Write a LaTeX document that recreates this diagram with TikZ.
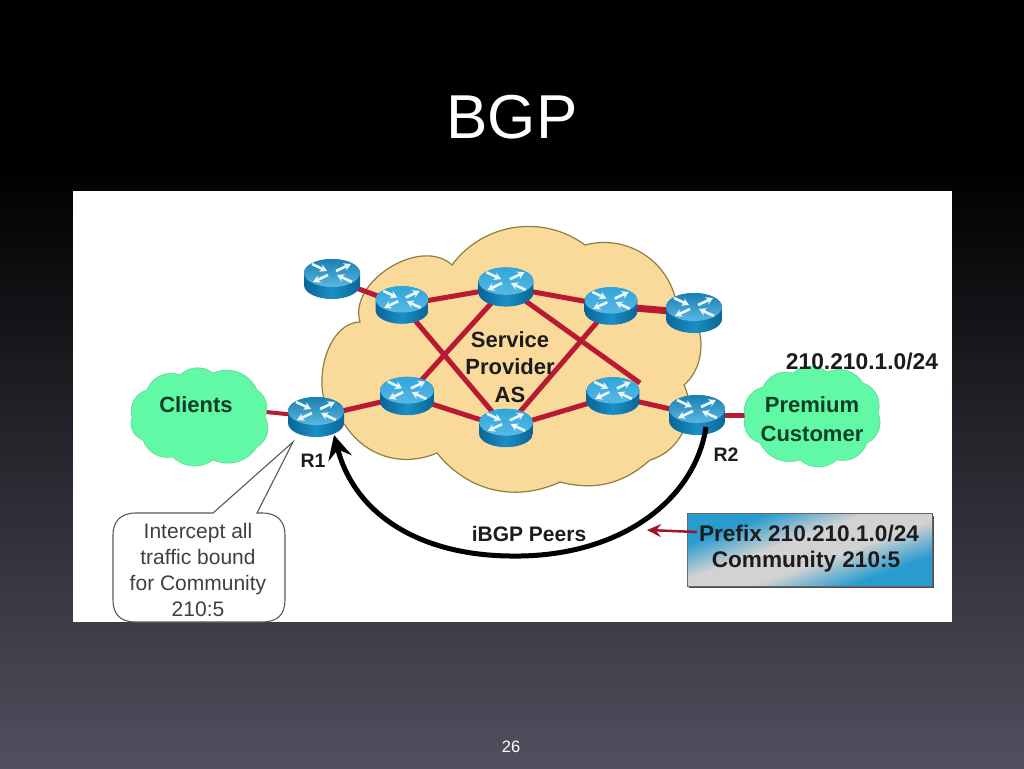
\documentclass[tikz,border=0pt]{standalone}
\usepackage{fontspec}
\setmainfont{Liberation Sans}
\usetikzlibrary{arrows.meta,calc}
\pgfdeclarelayer{bgl}
\pgfdeclarelayer{cloudl}
\pgfdeclarelayer{linkl}
\pgfsetlayers{bgl,cloudl,linkl,main}
\definecolor{linkred}{HTML}{B81A34}
\definecolor{sandc}{HTML}{FADA9A}
\definecolor{sande}{HTML}{8F7E3E}
\definecolor{mintc}{HTML}{62F9A6}
\definecolor{inkc}{HTML}{1C1C1C}
\definecolor{greenink}{HTML}{0E3F26}
\definecolor{rside}{HTML}{0B6596}
\definecolor{rsidel}{HTML}{1A8FC6}
\definecolor{rtop}{HTML}{2FA6DC}
\definecolor{rtopd}{HTML}{1A7FB0}
\definecolor{bgend}{HTML}{50505F}
\definecolor{boxblue}{HTML}{2A9BCF}
\definecolor{boxgray}{HTML}{D2D2D2}
\pgfdeclarehorizontalshading{prefixshade}{100bp}{
  color(0bp)=(boxblue); color(30bp)=(boxblue); color(44bp)=(boxgray); color(56bp)=(boxgray);
  color(70bp)=(boxblue); color(100bp)=(boxblue)}
\tikzset{
  x=1pt,y=-1pt,
  anchorbox/.style={inner sep=0pt,minimum width=56pt,minimum height=40pt},
  link/.style={draw=linkred,line width=5pt},
  boldlabel/.style={font=\fontsize{22}{26}\selectfont\bfseries,text=inkc,inner sep=0pt,align=center},
  routerlabel/.style={font=\fontsize{19.5}{22}\selectfont\bfseries,text=inkc,inner sep=0pt},
  greenlabel/.style={font=\fontsize{22}{26}\selectfont\bfseries,text=greenink,inner sep=0pt,align=center},
  calltext/.style={font=\fontsize{21}{26}\selectfont,text=black!75,inner sep=0pt,align=center},
  mint/.style={fill=mintc,draw=mintc!85!black,line width=.5pt},
  rarrow/.style={draw=white!92!rtop,line width=2.6pt,-{Stealth[length=7pt,width=8pt]}},
}
\newcommand{\router}[5]{%
  \node[anchorbox,minimum width=#4*56pt,minimum height=#4*40pt] (#1) at (#2,#3) {};
  \begin{scope}[shift={(#2,#3)},scale=#4]
    \path[left color=rside,right color=rside,middle color=rsidel]
      (-28,-6) -- (-28,6) arc[start angle=180,end angle=0,x radius=28,y radius=14]
      -- (28,-6) arc[start angle=0,end angle=-180,x radius=28,y radius=14] -- cycle;
    \path[top color=#5,bottom color=rtop!80!white]
      (0,-6) ellipse[x radius=28,y radius=14];
    \draw[rarrow] (-20,-15) -- (-5,-8);
    \draw[rarrow] (20,3) -- (5,-4);
    \draw[rarrow] (4,-8) -- (19,-15);
    \draw[rarrow] (-4,-4) -- (-19,3);
  \end{scope}}
\begin{document}
\begin{tikzpicture}
\useasboundingbox (0,0) rectangle (1024,768);
\begin{pgfonlayer}{bgl}
  \fill[black] (0,0) rectangle (1024,165);
  \shade[top color=black,bottom color=bgend] (0,165) rectangle (1024,768);
  \fill[white] (73,191) rectangle (952,622);
\end{pgfonlayer}
\begin{pgfonlayer}{cloudl}
  \filldraw[fill=sandc,draw=sande,line width=1.2pt]
    (360,322) to[bend left=75] (452,265)
    to[bend left=45] (585,245)
    to[bend left=45] (675,297)
    to[bend left=55] (684,385)
    to[bend left=50] (650,460)
    to[bend left=28] (560,482)
    to[bend left=38] (437,453)
    to[bend left=40] (345,425)
    to[bend left=80] cycle;
\end{pgfonlayer}

% clouds and routers
\filldraw[mint]
  (147,390) to[bend left=45] (180,375) to[bend left=40] (213,373) to[bend left=45] (257,390)
  to[bend left=40] (265,417) to[bend left=45] (257,447) to[bend left=40] (213,460)
  to[bend left=40] (173,457) to[bend left=40] (143,440) to[bend left=45] (132,417)
  to[bend left=45] cycle;
\node[greenlabel] (clients) at (196,405) {Clients};
\filldraw[mint]
  (745,417) to[bend left=45] (763,387) to[bend left=40] (793,373) to[bend left=40] (827,372)
  to[bend left=40] (863,383) to[bend left=45] (878,413) to[bend left=45] (867,443)
  to[bend left=40] (837,460) to[bend left=40] (800,460) to[bend left=40] (760,443)
  to[bend left=45] cycle;
\node[greenlabel] (premium) at (812,419.5) {Premium\\[3pt]Customer};

\router{ra}{332}{279}{1}{rtopd}
\router{rb}{402}{305}{.94}{rtop}
\router{rc}{506}{287}{.98}{rtop}
\router{rd}{611}{306}{.94}{rtop}
\router{re}{694}{313}{1}{rtopd}
\router{rf}{407}{396}{.96}{rtop}
\router{rg}{506}{428}{.96}{rtop}
\router{rh}{613}{396}{.94}{rtop}
\router{rone}{316}{417}{1}{rtopd}
\router{rtwo}{697}{415}{1}{rtopd}
\coordinate (cutend) at (640,383);

\begin{pgfonlayer}{linkl}
  \draw[link] (ra.center) -- (rb.center);
  \draw[link] (rb.center) -- (rc.center);
  \draw[link] (rc.center) -- (rd.center);
  \draw[link,line width=7pt] (rd.center) -- (re.center);
  \draw[link] (rb.center) -- (rg.center);
  \draw[link] (rc.center) -- (rf.center);
  \draw[link] (rc.center) -- (cutend);
  \draw[link] (rg.center) -- (rd.center);
  \draw[link] (rone.center) -- (rf.center);
  \draw[link] (rf.center) -- (rg.center);
  \draw[link] (rg.center) -- (rh.center);
  \draw[link] (rh.center) -- (rtwo.center);
  \draw[link,line width=4pt] (clients.center) -- (rone.center);
  \draw[link] (premium.center |- rtwo.center) -- (rtwo.center);
\end{pgfonlayer}

% labels
\node[boldlabel] (sp) at (510,367) {Service\\[1.5pt]Provider\\[1.5pt]AS};
\node[routerlabel] (lone) at (313,461) {R1};
\node[routerlabel] (ltwo) at (726,455) {R2};
\node[boldlabel,font=\fontsize{22.8}{26}\selectfont\bfseries] (net) at (862,361) {210.210.1.0/24};
\node[boldlabel,font=\fontsize{21}{26}\selectfont\bfseries] (peers) at (529,534) {iBGP Peers};

% iBGP curve
\coordinate (ibgpa) at (706,427);
\coordinate (ibgpb) at (334,435);
\draw[line width=5pt,black,-{Stealth[length=24pt,width=24pt,inset=9pt]}]
  (ibgpa) .. controls (695,500) and (620,558) .. (510,556)
  .. controls (420,555) and (355,515) .. (ibgpb);

% prefix box
\fill[black!70] (689,516) rectangle (934,588);
\shade[shading=prefixshade,shading angle=-70,draw=black!60,line width=1pt]
  (687,513) rectangle (932,586);
\coordinate (boxtail) at (697,532);
\coordinate (boxtip) at (647,530);
\draw[linkred!85!black,line width=2.5pt,-{Stealth[length=14pt,width=13pt,inset=5pt]}] (boxtail) -- (boxtip);
\node[boldlabel,font=\fontsize{22.6}{26}\selectfont\bfseries] (prefix) at (809,534) {Prefix 210.210.1.0/24};
\node[boldlabel,font=\fontsize{22.6}{26}\selectfont\bfseries] (comm) at (806,562) {Community 210:5};

% callout
\begin{scope}
  \clip (73,191) rectangle (952,622);
  \filldraw[fill=white,draw=black!65,line width=1.1pt]
    (213,513) -- (293,442) -- (257,513) -- (262,513)
    .. controls (278,513) and (285,522) .. (285,535)
    -- (285,600) .. controls (285,614) and (278,622) .. (262,622)
    -- (136,622) .. controls (120,622) and (113,614) .. (113,600)
    -- (113,535) .. controls (113,522) and (120,513) .. (136,513) -- cycle;
\end{scope}
\node[calltext] (callt) at (198,570) {Intercept all\\traffic bound\\for Community\\210:5};

% title and page number
\node[font=\fontsize{62}{70}\selectfont,text=white,inner sep=0pt] (title) at (512,117) {BGP};
\node[font=\fontsize{16.5}{20}\selectfont,text=white,inner sep=0pt] (page) at (511,747) {26};
\end{tikzpicture}
\end{document}
